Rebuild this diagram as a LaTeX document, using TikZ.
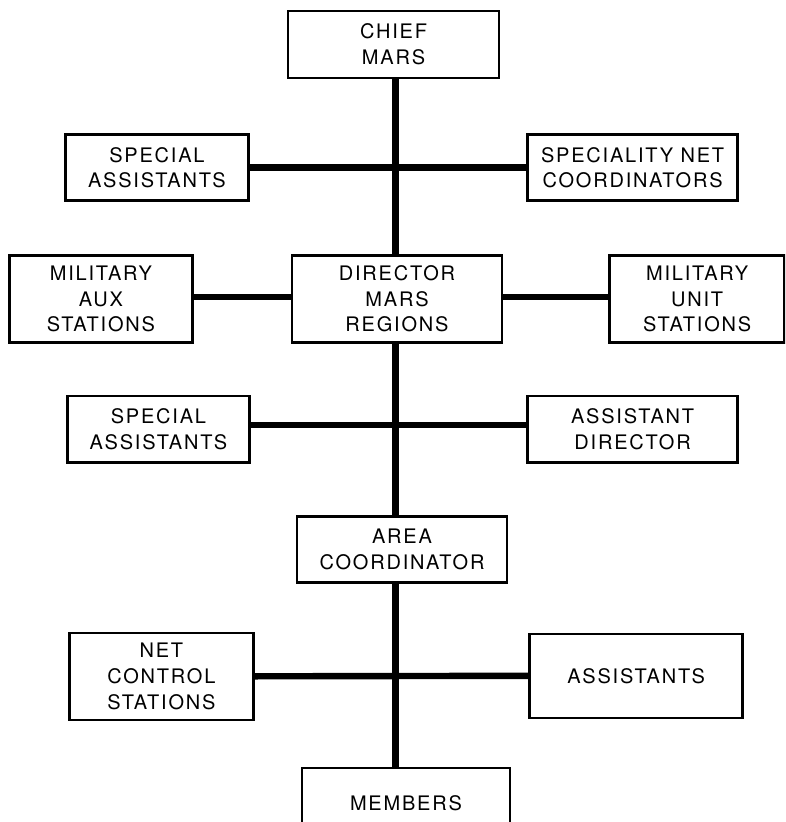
\documentclass[tikz,border=0pt]{standalone}
\usepackage{fontspec}
\newfontfamily\orgfont[LetterSpace=9]{TeX Gyre Heros}
\usepackage{tikz}
\usetikzlibrary{positioning}

\begin{document}
\begin{tikzpicture}[%
  every node/.style={align=center},
  box/.style={draw, line width=1.3pt, minimum width=105pt, minimum height=33pt, inner sep=0pt, font=\orgfont\fontsize{10pt}{12.8pt}\selectfont},
  sidebox/.style={box, minimum width=91.5pt},
  tall/.style={minimum height=43.5pt},
  link/.style={line width=3.2pt}
]
% Page frame
\path[use as bounding box, clip] (-196.75pt,22.25pt) rectangle (195.75pt,-388.75pt);

% Chief
\node[box, minimum width=105.5pt, minimum height=33.5pt] (chief) at (0,0) {CHIEF\\MARS};

% Staff of chief
\node[sidebox, below left=27pt and 18.5pt of chief] (spasst) {SPECIAL\\ASSISTANTS};
\node[box, below right=27pt and 13pt of chief] (netcoord) {SPECIALITY NET\\COORDINATORS};

% Director row
\node[box, tall, below=87.5pt of chief, xshift=1.75pt] (director) {DIRECTOR\\MARS\\REGIONS};
\node[sidebox, tall, left=48.5pt of director] (auxst) {MILITARY\\AUX\\STATIONS};
\node[box, tall, minimum width=87.5pt, right=52.5pt of director] (unitst) {MILITARY\\UNIT\\STATIONS};

% Staff of director
\node[sidebox, minimum width=91pt, below left=25.5pt and 20pt of director] (spasstb) {SPECIAL\\ASSISTANTS};
\node[box, below right=25.5pt and 11.5pt of director] (asstdir) {ASSISTANT\\DIRECTOR};

% Area level
\node[box, below=85.5pt of director, xshift=2.5pt] (area) {AREA\\COORDINATOR};
\node[sidebox, tall, minimum width=92pt, below left=24pt and 20.5pt of area] (netctl) {NET\\CONTROL\\STATIONS};
\node[box, minimum height=42pt, minimum width=106.5pt, below right=24.5pt and 10pt of area] (assts) {ASSISTANTS};

% Members
\node[box, minimum width=104pt, minimum height=35pt, below=91.5pt of area, xshift=2pt] (members) {MEMBERS};

% Main line
\coordinate (spine) at ([xshift=1pt]chief.south);
\draw[link] (chief.south -| spine) -- (director.north -| spine);
\draw[link] (director.south -| spine) -- (area.north -| spine);
\draw[link] (area.south -| spine) -- (members.north -| spine);

% Side lines
\draw[link] (spasst.east) -- (netcoord.west);
\draw[link] ([yshift=1pt]auxst.east) -- ([yshift=1pt]director.west);
\draw[link] ([yshift=1pt]director.east) -- ([yshift=1pt]unitst.west);
\draw[link] ([yshift=2pt]spasstb.east) -- ([yshift=2pt]asstdir.west);
\draw[link] (netctl.east) -- (assts.west);
\end{tikzpicture}
\end{document}
